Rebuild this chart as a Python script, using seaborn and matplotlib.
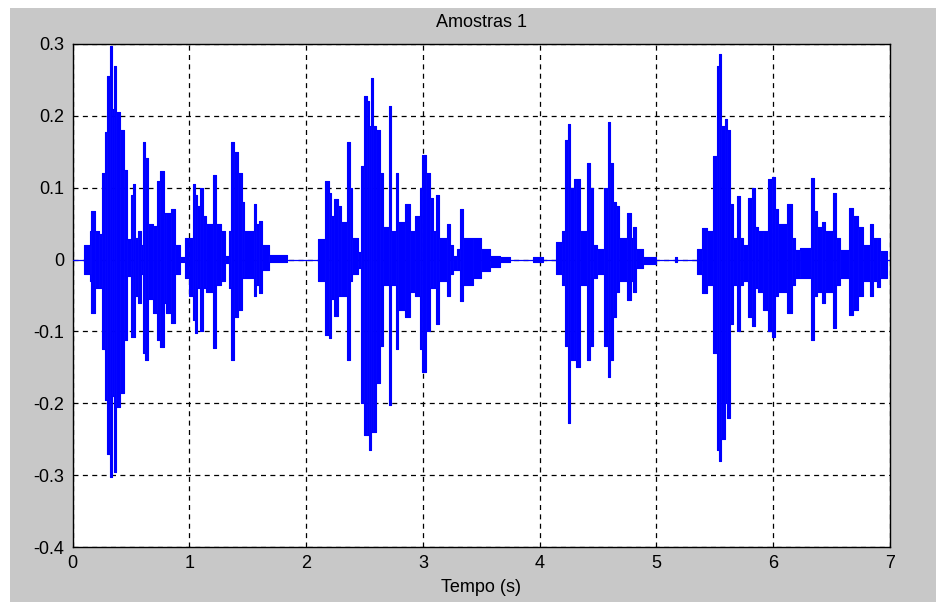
import numpy as np
import pandas as pd
import seaborn as sns
import matplotlib.pyplot as plt
from matplotlib.patches import Rectangle

# Envelope of the speech recording:
# start of each block (s), highest and lowest sample inside the block
tempo = [
    0.00, 0.10, 0.15, 0.16, 0.19, 0.23, 0.255, 0.275, 0.295, 0.32,
    0.335, 0.355, 0.37, 0.41, 0.44, 0.47, 0.50, 0.515, 0.535, 0.56,
    0.585, 0.60, 0.625, 0.65, 0.69, 0.72, 0.745, 0.78, 0.80, 0.84,
    0.88, 0.92, 0.96, 1.00, 1.03, 1.05, 1.07, 1.09, 1.115, 1.14,
    1.20, 1.23, 1.27, 1.31, 1.34, 1.36, 1.385, 1.42, 1.45, 1.47,
    1.55, 1.57, 1.60, 1.62, 1.68, 1.84,
    2.10, 2.166, 2.194, 2.215, 2.243, 2.271, 2.30, 2.349, 2.372, 2.395,
    2.443, 2.472, 2.492, 2.52, 2.537, 2.557, 2.571, 2.60, 2.629, 2.657,
    2.706, 2.729, 2.766, 2.786, 2.843, 2.886, 2.929, 2.972, 2.995, 3.029,
    3.057, 3.086, 3.115, 3.134, 3.209, 3.229, 3.257, 3.29, 3.32, 3.343,
    3.428, 3.50, 3.572, 3.657, 3.743, 3.94, 4.03,
    4.14, 4.19, 4.22, 4.243, 4.263, 4.29, 4.315, 4.343, 4.406, 4.435,
    4.457, 4.49, 4.549, 4.586, 4.60, 4.628, 4.657, 4.68, 4.749, 4.778,
    4.80, 4.829, 4.886, 5.0, 5.16, 5.175,
    5.348, 5.389, 5.429, 5.486, 5.515, 5.537, 5.557, 5.586, 5.606, 5.629,
    5.657, 5.686, 5.714, 5.743, 5.786, 5.815, 5.843, 5.871, 5.914, 5.957,
    5.986, 6.014, 6.043, 6.115, 6.158, 6.186, 6.229, 6.32, 6.349, 6.372,
    6.415, 6.443, 6.509, 6.537, 6.572, 6.651, 6.686, 6.729, 6.772, 6.829,
    6.857, 6.886, 6.914, 6.972,
    7.0,
]
pico_sup = [
    0, 0.02, 0.04, 0.068, 0.04, 0.035, 0.12, 0.177, 0.256, 0.297,
    0.21, 0.27, 0.206, 0.18, 0.125, 0.028, 0.09, 0.105, 0.03, 0.04,
    0.02, 0.163, 0.142, 0.05, 0.047, 0.11, 0.123, 0.065, 0.065, 0.07,
    0.02, 0.003, 0.03, 0.03, 0.105, 0.09, 0.075, 0.1, 0.06, 0.05,
    0.118, 0.05, 0.04, 0.005, 0.04, 0.163, 0.15, 0.12, 0.08, 0.04,
    0.077, 0.05, 0.053, 0.02, 0.006, 0,
    0.028, 0.109, 0.093, 0.06, 0.084, 0.075, 0.052, 0.163, 0.1, 0.03,
    0.01, 0.13, 0.228, 0.22, 0.186, 0.253, 0.186, 0.18, 0.12, 0.045,
    0.214, 0.04, 0.121, 0.052, 0.077, 0.04, 0.06, 0.1, 0.146, 0.12,
    0.085, 0.04, 0.09, 0.03, 0.05, 0.02, 0.005, 0.015, 0.07, 0.03,
    0.03, 0.015, 0.005, 0.003, 0, 0.003, 0,
    0.025, 0.04, 0.167, 0.188, 0.1, 0.112, 0.112, 0.04, 0.135, 0.1,
    0.02, 0.015, 0.1, 0.191, 0.135, 0.08, 0.075, 0.03, 0.065, 0.03,
    0.045, 0.015, 0.004, 0, 0.004, 0,
    0.015, 0.044, 0.04, 0.144, 0.27, 0.286, 0.186, 0.195, 0.18, 0.077,
    0.03, 0.088, 0.03, 0.02, 0.086, 0.1, 0.045, 0.04, 0.04, 0.112,
    0.115, 0.07, 0.05, 0.077, 0.03, 0.014, 0.016, 0.114, 0.067, 0.045,
    0.052, 0.04, 0.093, 0.03, 0.014, 0.072, 0.06, 0.045, 0.02, 0.05,
    0.03, 0.03, 0.012, 0,
    0,
]
pico_inf = [
    0, -0.02, -0.03, -0.074, -0.04, -0.04, -0.125, -0.195, -0.27, -0.302,
    -0.19, -0.295, -0.205, -0.185, -0.112, -0.023, -0.108, -0.108, -0.05, -0.06,
    -0.02, -0.13, -0.14, -0.055, -0.074, -0.112, -0.121, -0.06, -0.074, -0.088,
    -0.02, -0.003, -0.025, -0.05, -0.084, -0.102, -0.04, -0.1, -0.04, -0.045,
    -0.123, -0.035, -0.03, -0.005, -0.04, -0.14, -0.08, -0.07, -0.025, -0.025,
    -0.05, -0.035, -0.046, -0.015, -0.004, 0,
    -0.03, -0.105, -0.109, -0.055, -0.079, -0.05, -0.05, -0.14, -0.03, -0.02,
    -0.012, -0.2, -0.244, -0.244, -0.265, -0.24, -0.24, -0.172, -0.12, -0.035,
    -0.202, -0.035, -0.125, -0.07, -0.08, -0.045, -0.05, -0.125, -0.156, -0.1,
    -0.04, -0.04, -0.09, -0.03, -0.05, -0.02, -0.015, -0.015, -0.058, -0.035,
    -0.025, -0.016, -0.01, -0.003, 0, -0.003, 0,
    -0.02, -0.035, -0.12, -0.228, -0.14, -0.14, -0.15, -0.035, -0.14, -0.12,
    -0.025, -0.02, -0.12, -0.163, -0.14, -0.08, -0.045, -0.03, -0.056, -0.03,
    -0.045, -0.012, -0.006, 0, -0.004, 0,
    -0.02, -0.046, -0.035, -0.13, -0.265, -0.28, -0.25, -0.2, -0.22, -0.09,
    -0.035, -0.1, -0.035, -0.03, -0.08, -0.093, -0.04, -0.045, -0.07, -0.1,
    -0.108, -0.05, -0.045, -0.074, -0.035, -0.025, -0.025, -0.112, -0.05, -0.045,
    -0.06, -0.045, -0.095, -0.035, -0.025, -0.077, -0.07, -0.05, -0.03, -0.05,
    -0.03, -0.038, -0.025, 0,
    0,
]

x_ticks = [0, 1, 2, 3, 4, 5, 6, 7]
y_ticks = [-0.4, -0.3, -0.2, -0.1, 0, 0.1, 0.2, 0.3]
y_labels = ['-0.4', '-0.3', '-0.2', '-0.1', '0', '0.1', '0.2', '0.3']

df = pd.DataFrame({'tempo': tempo, 'sup': pico_sup, 'inf': pico_inf})
# each block runs until the next start time
blocos = df.iloc[:-1].copy()
blocos['largura'] = np.diff(df['tempo'].to_numpy())

sns.set_style('white')
plt.rcParams['font.family'] = ['Liberation Sans', 'DejaVu Sans']

fig = plt.figure(figsize=(9.36, 6.02), dpi=100, facecolor='white')
# gray MATLAB figure panel, leaving the thin white border top and left
fig.add_artist(Rectangle((10 / 936, 0), 1, 594 / 602, transform=fig.transFigure,
                         facecolor='#c8c8c8', edgecolor='none', zorder=-10))

ax = fig.add_axes([72.5 / 936, 1 - 547 / 602, (890 - 72.5) / 936, (547 - 44) / 602])
ax.set_facecolor('white')

azul = '#0000ff'
ax.bar(blocos['tempo'], blocos['sup'] - blocos['inf'], width=blocos['largura'],
       bottom=blocos['inf'], align='edge', color=azul, edgecolor=azul,
       linewidth=0.5, zorder=3)
sns.lineplot(data=df, x='tempo', y='sup', ax=ax, color=azul, lw=0.8,
             drawstyle='steps-post', estimator=None, zorder=4)
sns.lineplot(data=df, x='tempo', y='inf', ax=ax, color=azul, lw=0.8,
             drawstyle='steps-post', estimator=None, zorder=4)

ax.set_xlim(0, 7)
ax.set_ylim(-0.4, 0.3)
ax.set_xticks(x_ticks)
ax.set_xticklabels([str(v) for v in x_ticks])
ax.set_yticks(y_ticks)
ax.set_yticklabels(y_labels)
ax.tick_params(direction='in', length=5, width=0.8, color='black',
               labelsize=13, labelcolor='black', pad=6)
ax.grid(True, color='black', linestyle=(0, (4, 3.5)), linewidth=0.9, zorder=1)
ax.set_axisbelow(True)
for s in ax.spines.values():
    s.set_color('black')
    s.set_linewidth(1)
    s.set_visible(True)

ax.set_title('Amostras 1', fontsize=13, color='black', pad=12)
ax.set_xlabel('Tempo (s)', fontsize=13, color='black', labelpad=5)
ax.set_ylabel('')

fig.savefig('out.png', dpi=100, facecolor=fig.get_facecolor())
